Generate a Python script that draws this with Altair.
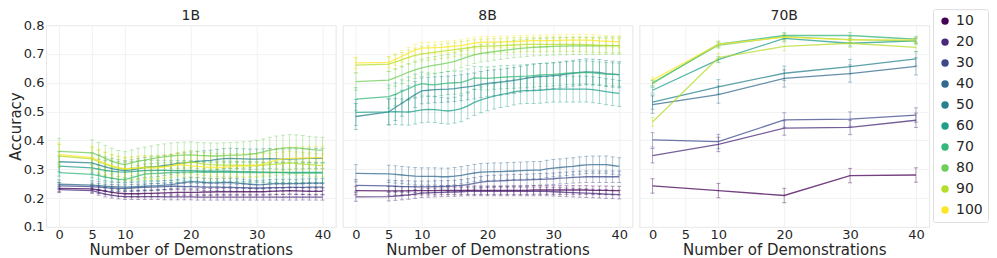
import altair as alt
import pandas as pd

# ---------------- data ----------------
SHOTS = [10, 20, 30, 40, 50, 60, 70, 80, 90, 100]
COLORS = ["#440154", "#482878", "#3e4989", "#31688e", "#26828e",
          "#1f9e89", "#35b779", "#6ece58", "#b5de2b", "#fde725"]
MODELS = ["1B", "8B", "70B"]

X_DENSE = [0, 5, 6, 7, 8, 9, 10, 11, 12, 13, 14, 15, 16, 17, 18, 19, 20, 21, 22,
           23, 24, 25, 26, 27, 28, 29, 30, 31, 32, 33, 34, 35, 36, 37, 38, 39, 40]
X_70B = [0, 10, 20, 30, 40]

ACC_1B = {
    10: [0.234, 0.232, 0.228, 0.224, 0.220, 0.217, 0.215, 0.215, 0.215, 0.216, 0.216, 0.217, 0.218,
         0.219, 0.220, 0.220, 0.220, 0.220, 0.221, 0.221, 0.222, 0.222, 0.222, 0.222, 0.222, 0.222,
         0.222, 0.222, 0.223, 0.224, 0.225, 0.226, 0.225, 0.224, 0.223, 0.223, 0.223],
    20: [0.229, 0.226, 0.220, 0.214, 0.210, 0.207, 0.205, 0.205, 0.205, 0.205, 0.205, 0.205, 0.204,
         0.204, 0.204, 0.204, 0.204, 0.203, 0.203, 0.203, 0.203, 0.203, 0.203, 0.203, 0.203, 0.203,
         0.203, 0.203, 0.203, 0.203, 0.203, 0.203, 0.203, 0.203, 0.203, 0.203, 0.203],
    30: [0.242, 0.240, 0.238, 0.236, 0.235, 0.234, 0.234, 0.235, 0.236, 0.237, 0.238, 0.239, 0.240,
         0.241, 0.241, 0.240, 0.240, 0.239, 0.238, 0.238, 0.238, 0.237, 0.237, 0.236, 0.236, 0.235,
         0.235, 0.235, 0.236, 0.236, 0.236, 0.237, 0.237, 0.237, 0.238, 0.238, 0.238],
    40: [0.248, 0.245, 0.243, 0.241, 0.240, 0.239, 0.238, 0.239, 0.240, 0.241, 0.242, 0.243, 0.245,
         0.247, 0.250, 0.254, 0.257, 0.256, 0.254, 0.253, 0.253, 0.254, 0.254, 0.252, 0.250, 0.248,
         0.246, 0.247, 0.249, 0.250, 0.250, 0.250, 0.250, 0.251, 0.252, 0.252, 0.252],
    50: [0.326, 0.322, 0.315, 0.308, 0.302, 0.298, 0.295, 0.298, 0.302, 0.306, 0.308, 0.310, 0.313,
         0.316, 0.320, 0.322, 0.325, 0.327, 0.329, 0.331, 0.334, 0.337, 0.338, 0.337, 0.336, 0.335,
         0.335, 0.336, 0.337, 0.336, 0.335, 0.335, 0.336, 0.337, 0.338, 0.338, 0.338],
    60: [0.311, 0.305, 0.300, 0.296, 0.293, 0.291, 0.290, 0.292, 0.294, 0.295, 0.296, 0.296, 0.296,
         0.295, 0.295, 0.295, 0.295, 0.294, 0.293, 0.293, 0.293, 0.293, 0.293, 0.292, 0.292, 0.292,
         0.291, 0.290, 0.290, 0.289, 0.289, 0.289, 0.289, 0.289, 0.289, 0.289, 0.289],
    70: [0.288, 0.282, 0.278, 0.273, 0.269, 0.266, 0.265, 0.270, 0.277, 0.283, 0.285, 0.286, 0.287,
         0.288, 0.289, 0.290, 0.290, 0.290, 0.289, 0.289, 0.289, 0.289, 0.289, 0.289, 0.288, 0.288,
         0.288, 0.288, 0.288, 0.288, 0.288, 0.287, 0.287, 0.287, 0.287, 0.287, 0.287],
    80: [0.362, 0.357, 0.348, 0.338, 0.328, 0.320, 0.316, 0.322, 0.328, 0.332, 0.336, 0.340, 0.343,
         0.346, 0.348, 0.349, 0.350, 0.348, 0.347, 0.346, 0.346, 0.347, 0.348, 0.349, 0.350, 0.352,
         0.355, 0.360, 0.366, 0.370, 0.373, 0.375, 0.374, 0.372, 0.369, 0.367, 0.366],
    90: [0.346, 0.336, 0.326, 0.318, 0.310, 0.304, 0.300, 0.302, 0.305, 0.307, 0.308, 0.309, 0.310,
         0.312, 0.318, 0.322, 0.325, 0.322, 0.318, 0.316, 0.315, 0.314, 0.314, 0.314, 0.313, 0.313,
         0.313, 0.314, 0.316, 0.318, 0.320, 0.322, 0.320, 0.318, 0.316, 0.314, 0.313],
    100: [0.351, 0.340, 0.330, 0.320, 0.312, 0.306, 0.302, 0.303, 0.305, 0.305, 0.304, 0.305, 0.308,
          0.312, 0.316, 0.314, 0.312, 0.310, 0.308, 0.306, 0.306, 0.307, 0.309, 0.311, 0.312, 0.313,
          0.314, 0.318, 0.325, 0.332, 0.336, 0.338, 0.338, 0.339, 0.339, 0.340, 0.340],
}
ERR_1B = {10: 0.012, 20: 0.010, 30: 0.012, 40: 0.015, 50: 0.035,
          60: 0.035, 70: 0.035, 80: 0.045, 90: 0.040, 100: 0.040}

ACC_8B = {
    10: [0.226, 0.225, 0.225, 0.225, 0.225, 0.226, 0.226, 0.226, 0.226, 0.227, 0.227, 0.227, 0.227,
         0.227, 0.227, 0.227, 0.227, 0.227, 0.227, 0.227, 0.227, 0.227, 0.227, 0.228, 0.228, 0.228,
         0.228, 0.228, 0.228, 0.228, 0.228, 0.228, 0.227, 0.227, 0.227, 0.226, 0.226],
    20: [0.204, 0.205, 0.207, 0.209, 0.211, 0.214, 0.217, 0.218, 0.219, 0.220, 0.221, 0.221, 0.222,
         0.223, 0.223, 0.223, 0.223, 0.223, 0.223, 0.223, 0.223, 0.223, 0.223, 0.223, 0.223, 0.223,
         0.222, 0.221, 0.220, 0.219, 0.218, 0.217, 0.216, 0.215, 0.214, 0.213, 0.212],
    30: [0.244, 0.242, 0.241, 0.240, 0.240, 0.239, 0.239, 0.239, 0.240, 0.240, 0.241, 0.242, 0.244,
         0.247, 0.251, 0.255, 0.258, 0.259, 0.260, 0.261, 0.262, 0.262, 0.263, 0.264, 0.265, 0.266,
         0.267, 0.269, 0.270, 0.272, 0.273, 0.274, 0.274, 0.274, 0.274, 0.274, 0.274],
    40: [0.286, 0.284, 0.282, 0.280, 0.278, 0.276, 0.275, 0.275, 0.275, 0.274, 0.274, 0.276, 0.279,
         0.283, 0.287, 0.290, 0.291, 0.292, 0.292, 0.293, 0.294, 0.295, 0.296, 0.297, 0.297, 0.301,
         0.304, 0.306, 0.308, 0.310, 0.313, 0.315, 0.316, 0.316, 0.316, 0.313, 0.310],
    50: [0.483, 0.499, 0.514, 0.529, 0.544, 0.559, 0.572, 0.574, 0.576, 0.577, 0.578, 0.580, 0.583,
         0.586, 0.589, 0.594, 0.598, 0.600, 0.602, 0.605, 0.608, 0.612, 0.616, 0.620, 0.622, 0.623,
         0.625, 0.627, 0.630, 0.633, 0.636, 0.638, 0.637, 0.636, 0.632, 0.630, 0.628],
    60: [0.497, 0.499, 0.500, 0.499, 0.498, 0.502, 0.506, 0.508, 0.507, 0.504, 0.502, 0.505, 0.510,
         0.520, 0.532, 0.541, 0.548, 0.554, 0.559, 0.563, 0.568, 0.572, 0.573, 0.573, 0.574, 0.576,
         0.578, 0.578, 0.578, 0.578, 0.578, 0.578, 0.576, 0.573, 0.569, 0.566, 0.563],
    70: [0.543, 0.552, 0.560, 0.570, 0.580, 0.590, 0.597, 0.594, 0.593, 0.596, 0.599, 0.600, 0.601,
         0.608, 0.617, 0.616, 0.615, 0.617, 0.619, 0.620, 0.621, 0.622, 0.623, 0.625, 0.627, 0.628,
         0.629, 0.631, 0.633, 0.634, 0.635, 0.636, 0.634, 0.632, 0.630, 0.629, 0.628],
    80: [0.604, 0.609, 0.618, 0.627, 0.637, 0.645, 0.652, 0.657, 0.661, 0.665, 0.669, 0.674, 0.682,
         0.690, 0.697, 0.702, 0.705, 0.708, 0.711, 0.714, 0.717, 0.719, 0.721, 0.723, 0.724, 0.725,
         0.726, 0.727, 0.727, 0.728, 0.728, 0.728, 0.728, 0.728, 0.729, 0.729, 0.729],
    90: [0.661, 0.665, 0.672, 0.680, 0.688, 0.695, 0.700, 0.703, 0.706, 0.709, 0.712, 0.715, 0.718,
         0.721, 0.724, 0.726, 0.727, 0.728, 0.729, 0.730, 0.731, 0.732, 0.733, 0.733, 0.733, 0.733,
         0.733, 0.733, 0.733, 0.733, 0.733, 0.732, 0.731, 0.730, 0.730, 0.729, 0.729],
    100: [0.669, 0.671, 0.681, 0.692, 0.703, 0.713, 0.720, 0.721, 0.722, 0.723, 0.725, 0.727, 0.729,
          0.733, 0.738, 0.740, 0.741, 0.741, 0.742, 0.742, 0.743, 0.744, 0.745, 0.746, 0.746, 0.746,
          0.746, 0.747, 0.748, 0.748, 0.748, 0.748, 0.747, 0.745, 0.744, 0.743, 0.743],
}
ERR_8B = {10: 0.015, 20: 0.015, 30: 0.020, 40: 0.030, 50: 0.045,
          60: 0.045, 70: 0.040, 80: 0.030, 90: 0.025, 100: 0.020}

ACC_70B = {
    10: [0.242, 0.226, 0.209, 0.278, 0.280],
    20: [0.347, 0.386, 0.443, 0.445, 0.470],
    30: [0.402, 0.396, 0.471, 0.474, 0.488],
    40: [0.524, 0.559, 0.615, 0.632, 0.657],
    50: [0.533, 0.586, 0.633, 0.656, 0.683],
    60: [0.574, 0.680, 0.754, 0.737, 0.745],
    70: [0.598, 0.734, 0.764, 0.764, 0.751],
    80: [0.600, 0.730, 0.760, 0.750, 0.745],
    90: [0.464, 0.687, 0.726, 0.737, 0.723],
    100: [0.609, 0.734, 0.758, 0.749, 0.749],
}
ERR_70B = {10: 0.025, 20: 0.025, 30: 0.025, 40: 0.030, 50: 0.025,
           60: 0.010, 70: 0.010, 80: 0.010, 90: 0.015, 100: 0.010}

rows = []
for model, xs, acc, err in [("1B", X_DENSE, ACC_1B, ERR_1B),
                            ("8B", X_DENSE, ACC_8B, ERR_8B),
                            ("70B", X_70B, ACC_70B, ERR_70B)]:
    for s in SHOTS:
        for xv, v in zip(xs, acc[s]):
            rows.append({"model": model, "n": xv, "series": s, "acc": v, "err": err[s]})
df = pd.DataFrame(rows)

# ---------------- chart ----------------
FONT = "DejaVu Sans"
xenc = alt.X("n:Q", scale=alt.Scale(domain=[-2, 42], nice=False, zero=False),
             axis=alt.Axis(values=[0, 5, 10, 20, 30, 40], title="Number of Demonstrations",
                           titleY=27, titleBaseline="alphabetic"))
yscale = alt.Scale(domain=[0.1, 0.8], nice=False, zero=False)
yaxis = alt.Axis(values=[0.1, 0.2, 0.3, 0.4, 0.5, 0.6, 0.7, 0.8], format=".1f", title="Accuracy")
cenc = alt.Color("series:O", scale=alt.Scale(domain=SHOTS, range=COLORS),
                 legend=alt.Legend(title=None, symbolType="circle", symbolSize=55,
                                   symbolOpacity=1, symbolStrokeWidth=0,
                                   labelFontSize=14, rowPadding=7, padding=5,
                                   orient="none", legendX=888, legendY=-16,
                                   strokeColor="#dddddd", cornerRadius=2))

dots = alt.Chart().mark_circle(size=0, opacity=0).encode(
    x=xenc,
    y=alt.Y("acc:Q", scale=yscale, axis=yaxis),
    color=cenc,
)
bars = alt.Chart().transform_calculate(
    lo="datum.acc - datum.err", hi="datum.acc + datum.err"
).mark_errorbar(ticks=True, size=4, thickness=1, opacity=0.4).encode(
    x=xenc,
    y=alt.Y("lo:Q", scale=yscale, axis=yaxis),
    y2="hi:Q",
    color=cenc,
)
lines = alt.Chart().mark_line(strokeWidth=1.3, opacity=0.75).encode(
    x=xenc,
    y=alt.Y("acc:Q", scale=yscale, axis=yaxis),
    color=cenc,
)

chart = alt.layer(dots, bars, lines, data=df).properties(width=290, height=202).facet(
    column=alt.Column("model:N", sort=MODELS,
                      header=alt.Header(title=None, labelFontSize=14, labelPadding=1,
                                        labelFont=FONT, labelColor="#262626")),
    spacing=5,
).properties(padding=0).configure_view(stroke="#e6e6e6").configure_axis(
    grid=True, gridColor="#efefef", gridWidth=0.8, domain=False, ticks=False,
    labelFont=FONT, titleFont=FONT, labelFontSize=13, titleFontSize=15,
    labelColor="#262626", titleColor="#262626", titleFontWeight="normal",
    labelPadding=1, titlePadding=0,
).configure_legend(labelFont=FONT, labelColor="#262626")

chart.save("out.html", embed_options={"renderer": "svg", "actions": False})
